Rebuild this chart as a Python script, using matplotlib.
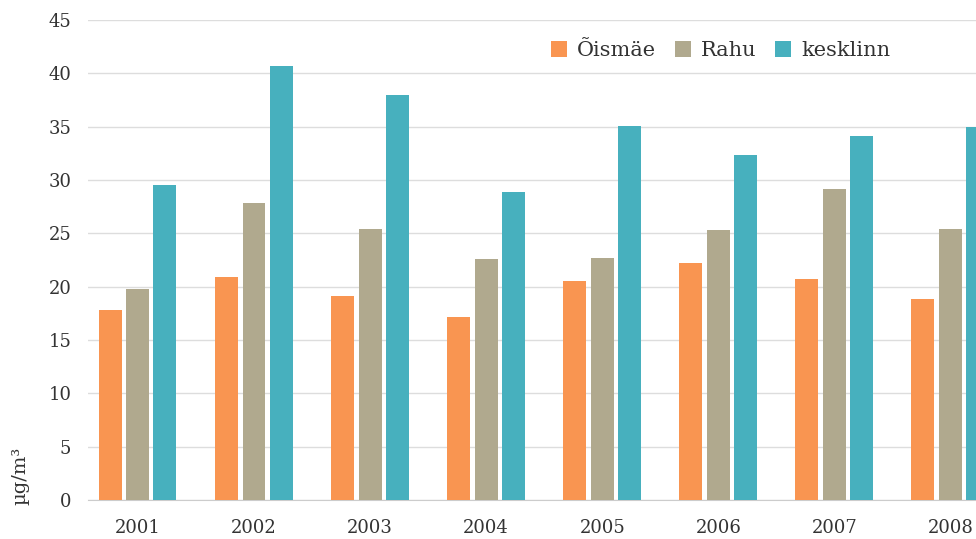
import matplotlib
matplotlib.use("Agg")
import matplotlib.pyplot as plt
import numpy as np

years = ['2001', '2002', '2003', '2004', '2005', '2006', '2007', '2008']
oismae = [17.8, 20.9, 19.1, 17.2, 20.5, 22.2, 20.7, 18.8]
rahu = [19.8, 27.8, 25.4, 22.6, 22.7, 25.3, 29.2, 25.4]
kesklinn = [29.5, 40.7, 38.0, 28.9, 35.1, 32.3, 34.1, 35.0]

series = [('Õismäe', oismae, '#F99551'),
          ('Rahu', rahu, '#B0A98E'),
          ('kesklinn', kesklinn, '#47B0BE')]

plt.rcParams['font.family'] = ['DejaVu Serif']
textColor = '#333333'

fig = plt.figure(figsize=(9.76, 5.39), dpi=100)
ax = fig.add_axes([88/976, 39/539, 1 - 88/976, 480/539])

x = np.arange(len(years))
barWidth = 0.198
offsets = [-0.237, 0, 0.233]
for (name, vals, col), off in zip(series, offsets):
    ax.bar(x + off, vals, width=barWidth, color=col, label=name, zorder=3)

ax.set_xlim(-0.43, 7.22)
ax.set_ylim(0, 45)
ax.set_yticks(np.arange(0, 46, 5))
ax.set_xticks(x)
ax.set_xticklabels(years)
ax.tick_params(axis='both', length=0, labelsize=13, colors=textColor)
ax.tick_params(axis='y', pad=12)
ax.tick_params(axis='x', pad=14)
ax.grid(axis='y', color='#DDDDDD', linewidth=1, zorder=0)
for s in ['top', 'right', 'left']:
    ax.spines[s].set_visible(False)
ax.spines['bottom'].set_color('#CCCCCC')

fig.text(20/976, 1 - 476/539, 'µg/m³', rotation=90, ha='center', va='center',
         fontsize=14, color=textColor)

ax.legend(loc='upper right', bbox_to_anchor=(0.925, 0.995), ncol=3, frameon=False,
          fontsize=15, handlelength=0.75, handleheight=0.75, handletextpad=0.5,
          columnspacing=0.9, labelcolor=textColor)

fig.savefig('out.png', dpi=100)
